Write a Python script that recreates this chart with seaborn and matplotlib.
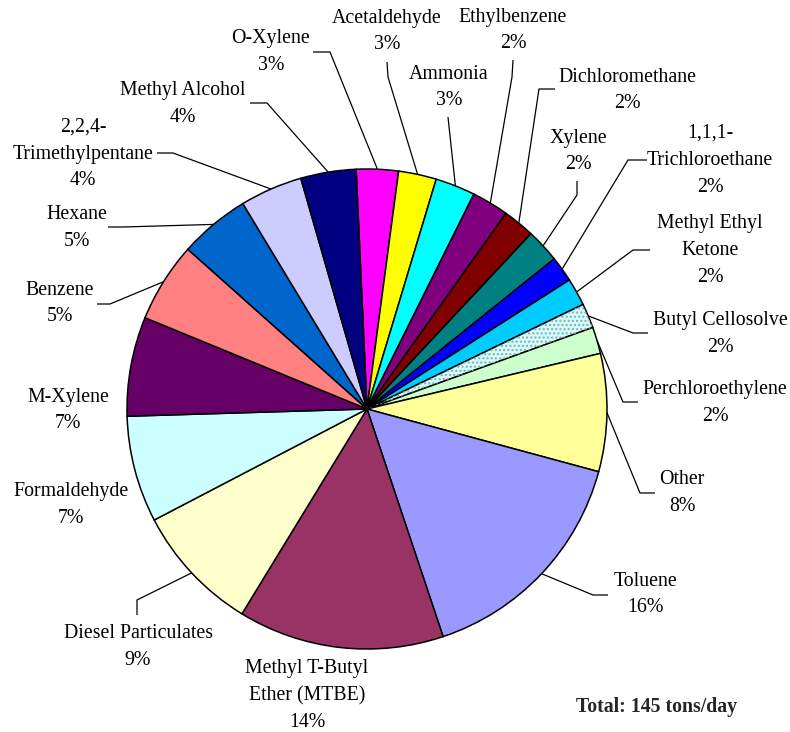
import numpy as np
import matplotlib
matplotlib.use("Agg")
import matplotlib.pyplot as plt
import matplotlib.patches as mpatches
import seaborn as sns

sns.set_style("white")
plt.rcParams['font.family'] = ['Liberation Serif', 'DejaVu Serif']

# ---- data (tons/day), clockwise order starting near 12 o'clock ----
categories = ["O-Xylene", "Acetaldehyde", "Ammonia", "Ethylbenzene", "Dichloromethane",
              "Xylene", "1,1,1-\nTrichloroethane", "Methyl Ethyl\nKetone", "Butyl Cellosolve",
              "Perchloroethylene", "Other", "Toluene", "Methyl T-Butyl\nEther (MTBE)",
              "Diesel Particulates", "Formaldehyde", "M-Xylene", "Benzene", "Hexane",
              "2,2,4-\nTrimethylpentane", "Methyl Alcohol"]
tons = [4.1, 3.7, 3.9, 3.6, 3.1,
        3.3, 2.5, 2.7, 2.4,
        2.6, 11.5, 22.7, 20.1,
        12.5, 10.4, 9.7, 7.8, 6.9,
        6.1, 5.4]
colors = ["#FF00FF", "#FFFF00", "#00FFFF", "#800080", "#800000",
          "#008080", "#0000FF", "#00CCFF", "#CCFFFF",
          "#CCFFCC", "#FFFF99", "#9999FF", "#993366",
          "#FFFFCC", "#CCFFFF", "#660066", "#FF8080", "#0066CC",
          "#CCCCFF", "#000080"]
hatched = ["Butyl Cellosolve"]

# ---- layout (pixel coordinates of the 790x732 canvas) ----
W, H = 790, 732
CX, CY, R = 367, 409, 240
label_pos = [(271, 50.5), (387, 30), (449, 86), (513, 29), (627, 89),
             (578, 150), (710, 159), (710, 249), (720, 332.5),
             (715, 401.5), (682, 491.5), (645, 593), (307, 694),
             (138, 645.5), (71, 503.5), (68, 409), (60, 302), (77, 226.5),
             (83, 152.5), (183, 102.5)]
leaders = [[(330, 52), (313, 52)], [(388, 77), (387, 62)], [(448, 117)],
           [(512, 77), (513, 60)], [(539, 89), (555, 89)],
           [(577, 195), (577, 181)], [(628, 160), (647, 160)],
           [(633, 250), (650, 250)], [(633, 333), (648, 333)],
           [(623, 402), (638, 402)], [(640, 493), (655, 493)],
           [(593, 595), (608, 595)], None,
           [(137, 600), (137, 615)], None, None,
           [(110, 304), (97, 304)], [(123, 227), (108, 227)],
           [(173, 153), (157, 153)], [(267, 103), (250, 103)]]

fig = plt.figure(figsize=(W / 100, H / 100), dpi=100)
ax = fig.add_axes([0, 0, 1, 1])

wedges, _ = ax.pie(tons, colors=colors, startangle=92.6, counterclock=False,
                   center=(CX, H - CY), radius=R,
                   wedgeprops=dict(edgecolor="black", linewidth=1.1))
ax.set_xlim(0, W)
ax.set_ylim(0, H)
ax.set_aspect("equal")
ax.axis("off")

# dotted fill for hatched slice
for w, name in zip(wedges, categories):
    if name in hatched:
        ov = mpatches.Wedge(w.center, w.r, w.theta1, w.theta2, fill=False,
                            hatch="....", edgecolor="#A0A0A0", linewidth=0)
        ax.add_patch(ov)

total = sum(tons)
plt.rcParams['hatch.linewidth'] = 1.0
for w, name, pos, lead, v in zip(wedges, categories, label_pos, leaders, tons):
    pct = int(round(v / total * 100))
    ax.text(pos[0], H - pos[1] - 1.5, f"{name}\n{pct}%", ha="center", va="center",
            fontsize=14.3, linespacing=1.57, color="black")
    if lead:
        ang = np.deg2rad((w.theta1 + w.theta2) / 2)
        xs = [w.center[0] + w.r * np.cos(ang)] + [p[0] for p in lead]
        ys = [w.center[1] + w.r * np.sin(ang)] + [H - p[1] for p in lead]
        ax.plot(xs, ys, color="black", linewidth=0.9, solid_capstyle="butt")

ax.text(657, H - 707, f"Total: {total:.0f} tons/day", ha="center", va="center",
        fontsize=14.3, fontweight="bold")

fig.savefig("out.png", dpi=100)
